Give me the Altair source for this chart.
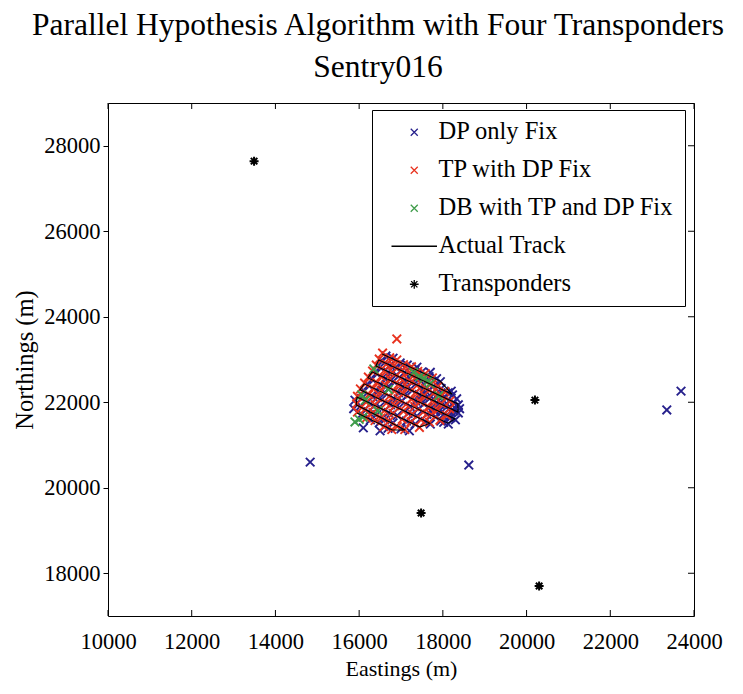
import altair as alt
import pandas as pd

# ---------------- data ----------------
x_ticks = [10000, 12000, 14000, 16000, 18000, 20000, 22000, 24000]
y_ticks = [18000, 20000, 22000, 24000, 26000, 28000]

series_names = ["DP only Fix", "TP with DP Fix", "DB with TP and DP Fix", "Actual Track", "Transponders"]
series_colors = ["#26208c", "#e8321e", "#3f9c4a", "#000000", "#000000"]

# DP only fixes (blue)
dp_x = [14830, 18620, 23350, 23690, 17380,
        16640, 16810, 16980, 17150, 17330, 17500, 17670, 17850, 17940,
        16560, 16740, 16900, 17080, 17260, 17430, 17610, 17780, 17960, 18130, 18230,
        16500, 16690, 16890, 17090, 17280, 17480, 17670, 17870, 18060, 18260, 18370,
        16410, 16620, 16820, 17030, 17230, 17440, 17640, 17850, 18050, 18260, 18370,
        16310, 16520, 16730, 16940, 17150, 17350, 17560, 17770, 17980, 18190, 18300,
        16220, 16420, 16620, 16820, 17020, 17220, 17420, 17620, 17820, 18020, 18130,
        16120, 16330, 16540, 16750, 16960, 17170, 17380, 17580, 17700,
        16060, 16270, 16490, 16700, 16910, 17130, 17340,
        16030, 16220, 16420, 16610, 16810, 17000,
        16060, 16270, 16480, 16690,
        18400, 18330, 18150, 17950, 15870, 15900, 16100, 16500, 17200, 18200, 17700,
        18280, 18100, 17900, 17720, 17560, 18000, 17820, 17640, 18180, 17480]
dp_y = [20600, 20530, 21820, 22260, 22820,
        23080, 23030, 22920, 22870, 22760, 22710, 22600, 22550, 22480,
        22960, 22860, 22800, 22700, 22640, 22540, 22480, 22380, 22320, 22220, 22170,
        22820, 22700, 22640, 22520, 22470, 22350, 22290, 22170, 22110, 21990, 21940,
        22680, 22550, 22490, 22370, 22310, 22180, 22120, 21990, 21930, 21800, 21750,
        22540, 22410, 22350, 22220, 22160, 22030, 21970, 21840, 21780, 21640, 21590,
        22400, 22270, 22220, 22090, 22030, 21900, 21850, 21720, 21660, 21530, 21490,
        22260, 22130, 22070, 21940, 21880, 21740, 21680, 21550, 21490,
        22090, 21960, 21890, 21760, 21690, 21560, 21490,
        21910, 21780, 21710, 21590, 21520, 21380,
        21720, 21590, 21520, 21390,
        21850, 22080, 21640, 21560, 21850, 22050, 21400, 21330, 21330, 22260, 22700,
        21880, 21960, 22040, 22130, 22210, 21700, 21790, 21870, 21780, 22060]

# TP with DP fixes (red)
tp_x = [16900,
        16560, 16730, 16900, 17060, 17250, 17400, 17580, 17750,
        16480, 16650, 16830, 17000, 17180, 17340, 17530, 17700, 17880, 18050,
        16410, 16600, 16800, 16990, 17190, 17380, 17580, 17770, 17970, 18170,
        16320, 16520, 16730, 16930, 17140, 17340, 17550, 17750, 17960, 18160,
        16220, 16420, 16630, 16840, 17050, 17250, 17460, 17670, 17880, 18090,
        16130, 16330, 16530, 16720, 16930, 17120, 17330, 17530, 17720, 17930,
        16030, 16230, 16440, 16650, 16860, 17060, 17270, 17480, 17680,
        15960, 16170, 16380, 16600, 16810, 17030, 17240, 17440,
        15940, 16130, 16330, 16520, 16720, 16910, 17090,
        15960, 16170, 16380, 16590, 16780]
tp_y = [23480,
        23150, 23040, 22990, 22880, 22830, 22720, 22670, 22570,
        23010, 22890, 22850, 22730, 22690, 22570, 22530, 22410, 22370, 22250,
        22870, 22740, 22690, 22560, 22510, 22390, 22330, 22210, 22150, 22030,
        22730, 22600, 22540, 22410, 22350, 22220, 22160, 22030, 21970, 21850,
        22590, 22460, 22400, 22260, 22200, 22070, 22010, 21880, 21820, 21690,
        22450, 22320, 22270, 22140, 22080, 21950, 21900, 21770, 21710, 21580,
        22310, 22180, 22110, 21980, 21920, 21790, 21720, 21590, 21530,
        22140, 22000, 21940, 21800, 21740, 21600, 21540, 21410,
        21960, 21830, 21760, 21630, 21560, 21430, 21360,
        21770, 21630, 21570, 21430, 21360]

# DB with TP and DP fixes (green)
db_x = [15900, 16000, 16090, 16060, 16150, 16350, 17300, 17450, 17550, 17650, 17700, 16700, 16450, 17900]
db_y = [21540, 21600, 21650, 22170, 22050, 22780, 22700, 22600, 22560, 22500, 22440, 22300, 21800, 22150]

# Actual track (lawnmower survey lines)
track_x = [16550, 17930, 18220, 16470, 16400, 18360, 18360, 16310, 16210, 18290,
           18120, 16120, 16020, 17690, 17450, 15950, 15930, 17100, 16790, 15950]
track_y = [23130, 22500, 22190, 22990, 22850, 21960, 21770, 22710, 22570, 21610,
           21510, 22430, 22290, 21510, 21420, 22120, 21940, 21350, 21350, 21750]

# Transponders
tr_x = [13490, 20200, 17480, 20300]
tr_y = [27640, 22050, 19410, 17700]

# ---------------- tables ----------------
def pts(xs, ys, name):
    return pd.DataFrame({"x": xs, "y": ys, "series": name})

fix_df = pd.concat([pts(dp_x, dp_y, series_names[0]),
                    pts(tp_x, tp_y, series_names[1]),
                    pts(db_x, db_y, series_names[2])], ignore_index=True)
track_df = pd.DataFrame({"x": track_x, "y": track_y, "series": series_names[3],
                         "k": list(range(len(track_x)))})
tr_df = pts(tr_x, tr_y, series_names[4])
xt_df = pd.DataFrame({"v": x_ticks})
yt_df = pd.DataFrame({"v": y_ticks})

X_PATH = "M-1,-1L1,1M-1,1L1,-1"
LINE_PATH = "M-6.5,0L6.5,0"
STAR_PATH = "M0,-1.25L0,1.25M-1.25,0L1.25,0M-0.9,-0.9L0.9,0.9M-0.9,0.9L0.9,-0.9"

W, H = 586, 513
FONT = "Liberation Serif"

xs = alt.Scale(domain=[10000, 24000], nice=False, zero=False)
ys = alt.Scale(domain=[17000, 29000], nice=False, zero=False)

x_enc = alt.X("x:Q", scale=xs, axis=alt.Axis(values=x_ticks, format="d", title="Eastings (m)",
                                             ticks=False, domain=False, grid=False,
                                             labelFlush=False, labelOverlap=False,
                                             labelPadding=14, titlePadding=6,
                                             titleFontSize=22))
y_enc = alt.Y("y:Q", scale=ys, axis=alt.Axis(values=y_ticks, format="d", title="Northings (m)",
                                             ticks=True, tickSize=5, domain=False, grid=False,
                                             labelFlush=False, labelOverlap=False,
                                             labelPadding=3, titlePadding=6,
                                             titleFontSize=24.5))

color = alt.Color("series:N", scale=alt.Scale(domain=series_names, range=series_colors),
                  legend=alt.Legend(title=None))
shape = alt.Shape("series:N",
                  scale=alt.Scale(domain=series_names, range=[X_PATH, X_PATH, X_PATH, LINE_PATH, STAR_PATH]),
                  legend=alt.Legend(title=None))

fixes = alt.Chart(fix_df).mark_point(filled=False, size=74, strokeWidth=1.9, opacity=1).encode(
    x=x_enc, y=y_enc, color=color, shape=shape)

track = alt.Chart(track_df).mark_line(strokeWidth=1.1).encode(
    x="x:Q", y="y:Q", color=color, order="k:Q")

trans = alt.Chart(tr_df).mark_point(filled=False, size=52, strokeWidth=2, opacity=1).encode(
    x="x:Q", y="y:Q", color=color, shape=shape)

xt_bottom = alt.Chart(xt_df).mark_rule(color="black", strokeWidth=1).encode(
    x=alt.X("v:Q", scale=xs), y=alt.value(H), y2=alt.value(H - 6))
xt_top = alt.Chart(xt_df).mark_rule(color="black", strokeWidth=1).encode(
    x=alt.X("v:Q", scale=xs), y=alt.value(0), y2=alt.value(6))
yt_right = alt.Chart(yt_df).mark_rule(color="black", strokeWidth=1).encode(
    y=alt.Y("v:Q", scale=ys), x=alt.value(W), x2=alt.value(W - 6))

chart = alt.layer(fixes, track, trans, xt_bottom, xt_top, yt_right).properties(
    width=W, height=H,
    autosize=alt.AutoSizeParams(type="none"),
    padding={"left": 100, "top": 95, "right": 30, "bottom": 72},
    title=alt.TitleParams(
        text=["Parallel Hypothesis Algorithm with Four Transponders", "Sentry016"],
        font=FONT, fontSize=31.5, fontWeight="normal", color="black",
        anchor="middle", dx=-23, offset=19, lineHeight=42),
).resolve_scale(color="shared", shape="shared").configure_view(
    stroke="black", strokeWidth=1
).configure_axis(
    labelFont=FONT, labelFontSize=22.5, labelColor="black",
    titleFont=FONT, titleFontWeight="normal", titleColor="black",
    tickColor="black"
).configure_legend(
    orient="none", legendX=264, legendY=7,
    strokeColor="black", fillColor="white", padding=10,
    labelFont=FONT, labelFontSize=24.5, labelColor="black", labelLimit=400,
    symbolSize=49, symbolStrokeWidth=1.3, symbolOffset=20, labelOffset=12,
    rowPadding=13, cornerRadius=0
)

chart.save("out.html", embed_options={"renderer": "svg", "actions": False})
